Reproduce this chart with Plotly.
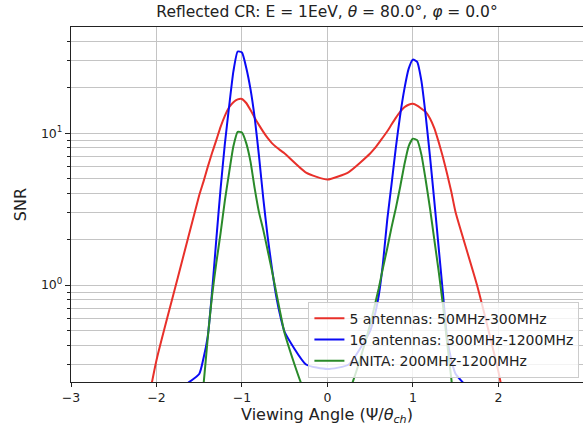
import plotly.graph_objects as go

# Viewing angle grid (Psi / theta_ch)
view_angle = [
    -2.5, -2.25, -2.0, -1.75,
    -1.5, -1.45, -1.4, -1.35, -1.3, -1.25, -1.2, -1.15, -1.1, -1.05, -1.0,
    -0.95, -0.9, -0.85, -0.8, -0.75, -0.7, -0.65, -0.6, -0.55, -0.5,
    -0.25, 0.0, 0.25,
    0.5, 0.55, 0.6, 0.65, 0.7, 0.75, 0.8, 0.85, 0.9, 0.95, 1.0,
    1.05, 1.1, 1.15, 1.2, 1.25, 1.3, 1.35, 1.4, 1.45, 1.5,
    1.75, 2.0, 2.25, 2.5,
]

snr_5ant = [
    0.01, 0.06, 0.32, 1.12,
    3.9, 4.8, 6.0, 7.4, 9.0, 11.0, 13.0, 14.8, 16.0, 16.7, 16.8,
    15.8, 14.2, 12.6, 11.3, 10.2, 9.3, 8.6, 8.1, 7.7, 7.35,
    5.5, 4.95, 5.55,
    7.35, 7.9, 8.6, 9.4, 10.3, 11.4, 12.6, 13.8, 14.8, 15.4, 15.6,
    15.2, 14.5, 13.8, 12.5, 10.8, 8.8, 7.0, 5.4, 4.1, 3.0,
    1.0, 0.27, 0.05, 0.01,
]

snr_16ant = [
    0.01, 0.05, 0.1, 0.2,
    0.26, 0.33, 0.46, 0.9, 2.0, 4.3, 8.5, 15.0, 25.5, 34.5, 34.0,
    27.0, 19.5, 12.5, 7.0, 3.7, 2.1, 1.3, 0.85, 0.62, 0.49,
    0.30, 0.28, 0.30,
    0.5, 0.62, 0.85, 1.4, 2.7, 4.6, 8.0, 13.0, 19.5, 26.5, 30.5,
    29.5, 22.0, 13.0, 7.0, 3.6, 1.8, 0.9, 0.45, 0.32, 0.26,
    0.18, 0.1, 0.05, 0.01,
]

snr_anita = [
    0.001, 0.005, 0.02, 0.06,
    0.13, 0.22, 0.45, 0.85, 1.4, 2.2, 3.6, 5.5, 8.2, 10.2, 10.1,
    8.6, 6.5, 4.3, 3.0, 2.3, 1.7, 1.25, 0.9, 0.65, 0.48,
    0.19, 0.14, 0.2,
    0.55, 0.72, 0.95, 1.3, 1.75, 2.4, 3.2, 4.4, 6.2, 8.2, 9.2,
    9.0, 7.2, 4.9, 3.2, 2.0, 1.25, 0.75, 0.42, 0.24, 0.14,
    0.05, 0.02, 0.005, 0.001,
]

series_names = [
    "5 antennas: 50MHz-300MHz",
    "16 antennas: 300MHz-1200MHz",
    "ANITA: 200MHz-1200MHz",
]
series_colors = ["#e8302a", "#0a0af5", "#2a8a2a"]

x_ticks = [-3, -2, -1, 0, 1, 2]
y_major = [1, 10]
y_major_text = ["10<sup>0</sup>", "10<sup>1</sup>"]
y_minor = [0.3, 0.4, 0.5, 0.6, 0.7, 0.8, 0.9, 2, 3, 4, 5, 6, 7, 8, 9, 20, 30, 40]

FONT = "DejaVu Sans"

fig = go.Figure()
for name, ys, col in zip(series_names, [snr_5ant, snr_16ant, snr_anita], series_colors):
    fig.add_trace(go.Scatter(
        x=view_angle, y=ys, mode="lines", name=name,
        line=dict(color=col, width=2, shape="spline", smoothing=0.5),
    ))

fig.update_layout(
    width=583, height=432,
    margin=dict(l=71, r=0, t=27, b=50),
    paper_bgcolor="white", plot_bgcolor="white",
    font=dict(family=FONT, color="#222222", size=12.5),
    title=dict(
        text="Reflected CR: E = 1EeV, <i>θ</i> = 80.0°, <i>φ</i> = 0.0°",
        x=0.5, xref="paper", xanchor="center",
        y=1 - 12 / 432, yref="container", yanchor="middle",
        font=dict(family=FONT, size=15.5, color="#222222"),
    ),
    showlegend=True,
    legend=dict(
        x=0.993, xanchor="right", y=0.012, yanchor="bottom",
        bgcolor="rgba(255,255,255,0.8)", bordercolor="#cccccc", borderwidth=1,
        font=dict(family=FONT, size=14, color="#222222"),
        tracegroupgap=0, itemwidth=30,
    ),
)

fig.update_xaxes(
    range=[-3, 2.99], tickmode="array", tickvals=x_ticks,
    showgrid=True, gridcolor="#c4c4c4", gridwidth=1,
    zeroline=False, showline=True, linecolor="#222222", linewidth=1.2, mirror=True,
    ticks="outside", ticklen=4, tickcolor="#222222",
    tickfont=dict(family=FONT, size=12.5, color="#222222"),
    title=dict(text="Viewing Angle (Ψ/<i>θ</i><sub><i>ch</i></sub>)",
               font=dict(family=FONT, size=16, color="#222222"), standoff=3),
)

fig.update_yaxes(
    type="log", range=[-0.638, 1.699],
    tickmode="array", tickvals=y_major, ticktext=y_major_text,
    showgrid=True, gridcolor="#c4c4c4", gridwidth=1,
    zeroline=False, showline=True, linecolor="#222222", linewidth=1.2, mirror=False,
    ticks="outside", ticklen=5, tickcolor="#222222",
    tickfont=dict(family=FONT, size=12.5, color="#222222"),
    minor=dict(tickmode="array", tickvals=y_minor, showgrid=True,
               gridcolor="#c4c4c4", gridwidth=1, ticks="outside", ticklen=3,
               tickcolor="#222222"),
    title=dict(text="SNR", font=dict(family=FONT, size=16, color="#222222"), standoff=10),
)

fig.write_html("out.html")
